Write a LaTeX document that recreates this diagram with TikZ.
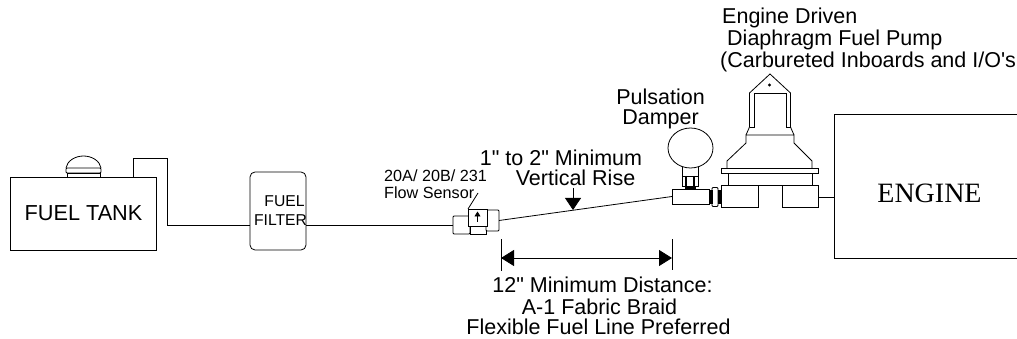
\documentclass[tikz,border=0pt]{standalone}
\usepackage{fontspec}
\newfontfamily\labelface{Liberation Sans}
\newfontfamily\serifface{Liberation Serif}
\usetikzlibrary{arrows.meta,calc,positioning,shapes.geometric}
\tikzset{
  part/.style={draw, fill=white, line width=0.8pt, minimum width=0pt, minimum height=0pt, inner sep=0pt, outer sep=0pt},
  label/.style={align=center, inner sep=0pt, font=\labelface\fontsize{21.5}{20}\selectfont},
  smalllabel/.style={align=left, inner sep=0pt, font=\labelface\fontsize{16.2}{17}\selectfont},
  line/.style={line width=0.8pt},
  dimflow/.style={{Triangle[length=13pt,width=16pt]}-{Triangle[length=13pt,width=16pt]}, line width=0.8pt},
  riseflow/.style={-{Triangle[length=12pt,width=16pt]}, line width=0.8pt}
}

\begin{document}
\begin{tikzpicture}[x=1pt,y=-1pt]
  \useasboundingbox (0,0) rectangle (1017,339);

  % tank
  \node[part, minimum width=146pt, minimum height=73pt, font=\labelface\fontsize{21.7}{24}\selectfont] (tank) at (83.5,213.5) {FUEL TANK};
  \node[part, minimum width=33pt, minimum height=4pt] (neck) at (83.5,175) {};
  \node[part, minimum width=35pt, minimum height=5pt, rounded corners=1pt] (band) at (83.5,170.5) {};
  \draw[line] (band.north west) .. controls (67,161) and (75,156) .. (83.5,156) .. controls (92,156) and (100,161) .. (band.north east);

  % filter
  \node[part, minimum width=56pt, minimum height=78pt, rounded corners=5pt] (filter) at (278,211) {};
  \node[inner sep=0pt, align=center, font=\labelface\fontsize{15.7}{19.5}\selectfont] (filtertext) at (280.5,210.5) {\hspace*{8pt}FUEL\\FILTER};

  % sensor
  \node[part, minimum width=17pt, minimum height=18pt, rounded corners=1pt] (sensorin) at (461.5,225) {};
  \node[part, minimum width=16pt, minimum height=8pt] (sensorlow) at (478,230) {};
  \node[part, minimum width=13pt, minimum height=21pt, rounded corners=1pt] (sensorout) at (492.5,220.5) {};
  \node[part, minimum width=19pt, minimum height=17pt] (sensorhead) at (477.5,217.5) {};
  \coordinate (arrowtail) at (477.5,222);
  \coordinate (arrowtip) at (477.5,211.5);
  \draw[-{Triangle[length=5pt,width=6pt]}, line] (arrowtail) -- (arrowtip);
  \node[smalllabel, anchor=north west] (sensortext) at (384,170) {20A/ 20B/ 231\\Flow Sensor};
  \coordinate (leader) at (478,193);
  \draw[line] (leader) -- (sensorhead.north west);

  % damper and tee
  \node[part, minimum width=37pt, minimum height=15pt] (tee) at (690.5,196.5) {};
  \node[part, ellipse, minimum width=45pt, minimum height=40pt] (ball) at (690.5,148) {};
  \coordinate (neckl) at (682,177);
  \coordinate (neckr) at (698,177);
  \draw[line] (682,167) -- (neckl);
  \draw[line] (698,167) -- (neckr);
  \node[part, minimum width=16pt, minimum height=10pt] (nut) at (690,181) {};
  \draw[line width=1.4pt] (686,176) -- (686,186) (694,176) -- (694,186);
  \node[part, fill=black, minimum width=10pt, minimum height=3pt] (nutbase) at (690,187.5) {};
  \node[part, minimum width=6pt, minimum height=19pt, rounded corners=1pt] (coupler) at (715,197) {};
  \fill (709,190) rectangle (713,204);
  \fill (718,190) rectangle (721,204);

  % pump
  \node[part, minimum width=37pt, minimum height=22pt] (pumpleft) at (739.5,196) {};
  \node[part, minimum width=36pt, minimum height=22pt] (pumpright) at (800,196) {};
  \node[part, minimum width=84pt, minimum height=12pt] (pumpbase) at (770,179) {};
  \node[part, minimum width=97pt, minimum height=5pt] (flange) at (769.5,170.5) {};
  \draw[line] (727,168) -- (727,161) -- (746,143) -- (746,135) -- (794,135) -- (794,143) -- (812,161) -- (812,168);
  \draw[line] (746,135) -- (749.5,127) -- (749.5,93) -- (770,74) -- (790.5,93) -- (790.5,127) -- (794,135);
  \draw[line] (749.5,127) -- (754,127) -- (754,93) -- (786,93) -- (786,127) -- (790.5,127);
  \node[part, circle, minimum size=2pt] (pumphole) at (769.5,85) {};
  \node[label, align=left, anchor=north west, font=\labelface\fontsize{21.5}{22}\selectfont] (pumptext) at (720,8) {\hspace*{2pt}Engine Driven\\\hspace*{7pt}Diaphragm Fuel Pump\\(Carbureted Inboards and I/O's};

  % engine
  \coordinate (enginetr) at (1017,114);
  \coordinate (enginebr) at (1017,258.5);
  \node[anchor=center, inner sep=0pt, font=\serifface\fontsize{28}{30}\selectfont] (enginetext) at (929.5,193) {ENGINE};
  \coordinate (enginetl) at (834,114);
  \coordinate (enginebl) at (834,258.5);
  \draw[line] (enginetr) -- (enginetl) -- (enginebl) -- (enginebr);

  % fuel line
  \coordinate (riser) at (133,158);
  \coordinate (riserend) at (167,158);
  \coordinate (riserlow) at (167,225);
  \draw[line] (133,177) -- (riser) -- (riserend) -- (riserlow) -- (250,225);
  \draw[line] (306,225) -- (sensorin.west);
  \draw[line] (sensorout.east) -- (tee.west);
  \draw[line] (818,197) -- (834,197);

  % dimensions
  \coordinate (distl) at (501,258);
  \coordinate (distr) at (672,258);
  \draw[dimflow] (distl) -- (distr);
  \draw[line] (501,239) -- (501,271);
  \draw[line] (672,239) -- (672,270);
  \coordinate (risetop) at (573,188);
  \coordinate (risebot) at (573,210);
  \draw[riseflow] (risetop) -- (risebot);

  \node[label] (risetext) at (561,168) {1" to 2" Minimum\\\hspace*{29pt}Vertical Rise};
  \node[label] (dampertext) at (660.5,109) {Pulsation\\Damper};
  \node[label] (disttext) at (598.5,306) {\hspace*{8pt}12" Minimum Distance:\\[2pt]\hspace*{2pt}A-1 Fabric Braid\\Flexible Fuel Line Preferred};
\end{tikzpicture}
\end{document}
